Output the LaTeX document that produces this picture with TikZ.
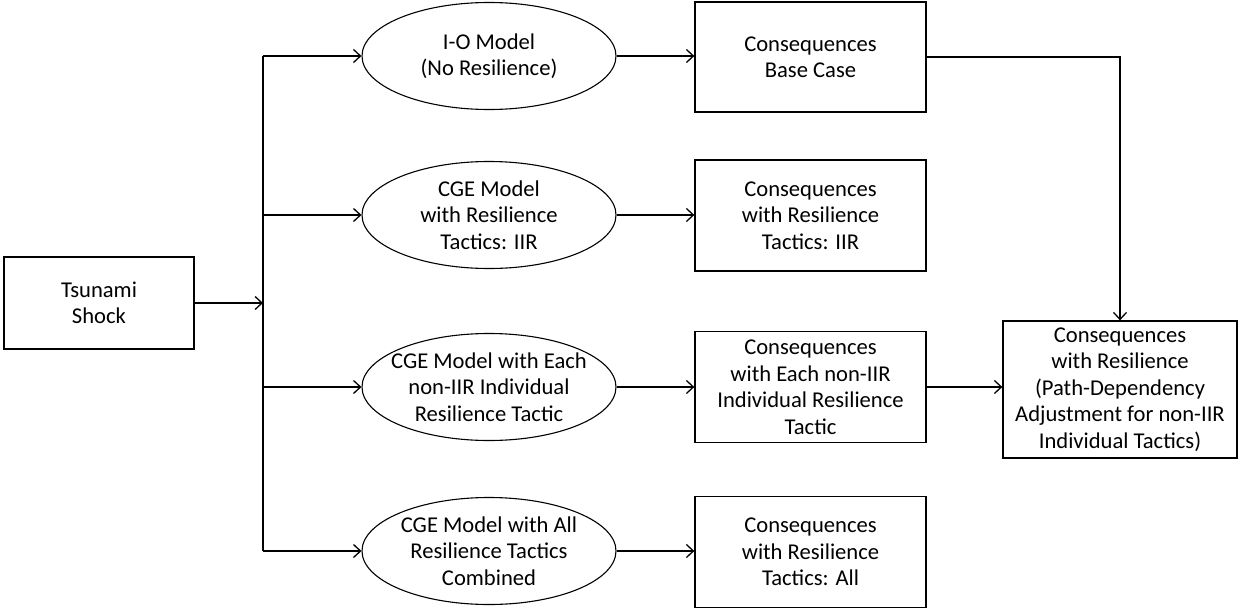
\documentclass[tikz,border=0pt]{standalone}
\usepackage{fontspec}
\setmainfont{Carlito}
\usetikzlibrary{shapes.geometric,arrows.meta}
\begin{document}
\begin{tikzpicture}[x=1pt,y=-1pt,
  every node/.style={font=\fontsize{22.6}{26.5}\selectfont},
  boxnode/.style={draw, line width=1.3pt, rectangle, minimum width=231pt, minimum height=111pt, inner sep=0pt, align=center},
  ellnode/.style={draw, line width=1.1pt, ellipse, minimum width=254pt, minimum height=107pt, inner sep=0pt},
  txt/.style={align=center, inner sep=0pt},
  arr/.style={line width=1.3pt, -{Straight Barb[length=7pt,width=13pt,line width=1.3pt]}},
  ln/.style={line width=1.3pt}]
\useasboundingbox (0,0) rectangle (1239,610);
\fill[white] (0,0) rectangle (1239,610);

\node[boxnode, minimum width=190pt, minimum height=92pt] (ts) at (99,303) {Tsunami\\Shock};
\coordinate (J) at (263,303);

\node[ellnode] (e1) at (489,56) {};
\node[txt] (t1) at (e1) {I-O Model\\(No Resilience)};
\node[ellnode] (e2) at (489,215) {};
\node[txt] (t2) at (e2) {CGE Model\\with Resilience\\Tactics: IIR};
\node[ellnode] (e3) at (489,387) {};
\node[txt] (t3) at (e3) {CGE Model with Each\\non-IIR Individual\\Resilience Tactic};
\node[ellnode] (e4) at (489,551) {};
\node[txt] (t4) at (e4) {CGE Model with All\\Resilience Tactics\\Combined};

\node[boxnode, minimum height=110pt] (c1) at (810.5,57) {Consequences\\Base Case};
\node[boxnode] (c2) at (810.5,215.5) {Consequences\\with Resilience\\Tactics: IIR};
\node[boxnode] (c3) at (810.5,387) {Consequences\\with Each non-IIR\\Individual Resilience\\Tactic};
\node[boxnode] (c4) at (810.5,552) {Consequences\\with Resilience\\Tactics: All};

\node[boxnode, minimum width=234pt, minimum height=137pt] (f) at (1120,389.5) {Consequences\\with Resilience\\(Path-Dependency\\Adjustment for non-IIR\\Individual Tactics)};

\draw[arr] (ts.east) -- (J);
\draw[ln] (J |- e1.west) -- (J |- e4.west);
\foreach \i in {1,2,3,4} {
  \draw[arr] (J |- e\i.west) -- (e\i.west);
  \draw[arr] (e\i.east) -- (e\i.east -| c\i.west);
}
\draw[arr] (c1.east) -| (f.north);
\draw[arr] (c3.east) -- (c3.east -| f.west);
\end{tikzpicture}
\end{document}
